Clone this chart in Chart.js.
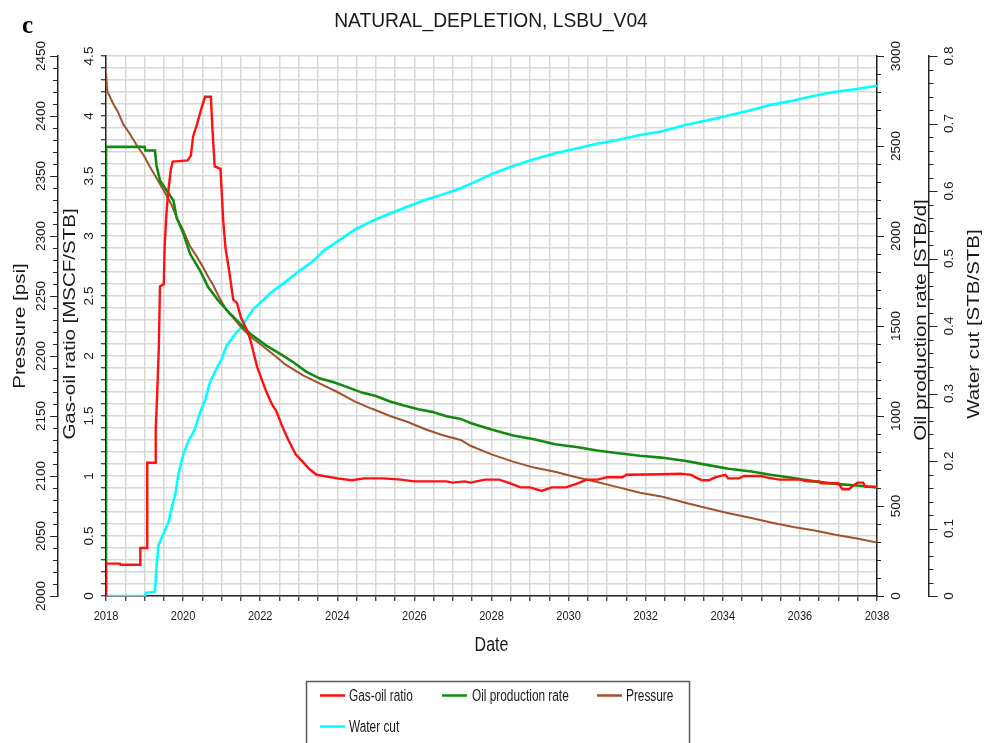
<!DOCTYPE html>
<html>
<head>
<meta charset="utf-8">
<script src="https://cdn.jsdelivr.net/npm/chart.js@4.4.1/dist/chart.umd.min.js"></script>
<style>
html,body{margin:0;padding:0;background:#fff;}
#wrap{position:relative;width:986px;height:743px;}
</style>
</head>
<body>
<div id="wrap"><canvas id="c"></canvas></div>
<script>
// ---------- data ----------
const chartTitle = 'NATURAL_DEPLETION, LSBU_V04';
const seriesNames = ['Gas-oil ratio', 'Oil production rate', 'Pressure', 'Water cut'];

const gorYears = [2018.0,2018.0,2018.36,2018.38,2018.89,2018.89,2019.07,2019.07,2019.28,2019.29,2019.33,2019.37,2019.40,2019.50,2019.52,2019.57,2019.62,2019.68,2019.73,2020.12,2020.20,2020.26,2020.35,2020.49,2020.57,2020.72,2020.77,2020.82,2020.97,2021.04,2021.10,2021.20,2021.30,2021.40,2021.50,2021.65,2021.74,2021.92,2022.15,2022.30,2022.42,2022.55,2022.73,2022.92,2023.10,2023.27,2023.46,2024.0,2024.37,2024.70,2025.20,2025.65,2026.0,2026.83,2027.0,2027.30,2027.45,2027.83,2028.20,2028.47,2028.75,2029.0,2029.30,2029.56,2029.93,2030.20,2030.47,2030.75,2031.0,2031.40,2031.50,2032.40,2032.90,2033.19,2033.28,2033.46,2033.64,2033.82,2034.06,2034.14,2034.42,2034.55,2035.0,2035.10,2035.46,2036.0,2036.20,2036.50,2036.55,2037.0,2037.10,2037.28,2037.37,2037.50,2037.64,2037.70,2038.0];
const gorValues = [0,0.27,0.27,0.26,0.26,0.40,0.40,1.11,1.11,1.39,1.70,2.07,2.58,2.60,2.90,3.20,3.38,3.55,3.62,3.63,3.67,3.83,3.92,4.08,4.16,4.16,3.84,3.58,3.56,3.13,2.90,2.70,2.47,2.44,2.32,2.22,2.14,1.91,1.71,1.60,1.54,1.43,1.30,1.18,1.12,1.06,1.01,0.98,0.965,0.98,0.98,0.97,0.955,0.955,0.945,0.955,0.945,0.97,0.97,0.94,0.905,0.905,0.876,0.905,0.905,0.935,0.97,0.97,0.99,0.99,1.01,1.015,1.02,1.01,0.99,0.965,0.965,0.99,1.01,0.98,0.98,1.0,1.0,0.99,0.97,0.97,0.955,0.955,0.94,0.94,0.89,0.89,0.92,0.945,0.945,0.91,0.91];

const oprYears = [2018.0,2018.0,2019.0,2019.02,2019.27,2019.31,2019.40,2019.57,2019.75,2019.83,2020.01,2020.18,2020.44,2020.65,2020.91,2021.22,2021.48,2021.74,2022.17,2022.56,2022.85,2023.19,2023.55,2023.91,2024.28,2024.64,2025.0,2025.37,2025.73,2026.10,2026.46,2026.83,2027.20,2027.47,2028.0,2028.56,2029.10,2029.65,2030.20,2030.74,2031.30,2031.85,2032.40,2033.05,2033.55,2034.15,2034.74,2035.28,2035.83,2036.38,2036.92,2037.48,2038.0];
const oprValues = [0,2495,2495,2475,2475,2392,2308,2253,2197,2104,2012,1901,1808,1716,1642,1568,1512,1457,1390,1340,1300,1247,1208,1188,1159,1130,1111,1081,1058,1038,1023,999,984,960,925,892,871,843,828,808,793,779,769,750,730,707,692,672,656,637,623,614,603];

const presYears = [2018.0,2018.03,2018.19,2018.30,2018.45,2018.60,2018.79,2019.0,2019.15,2019.35,2019.53,2019.70,2019.85,2020.0,2020.17,2020.35,2020.50,2020.65,2020.78,2020.95,2021.13,2021.30,2021.50,2021.75,2022.0,2022.43,2022.65,2023.10,2023.55,2024.0,2024.46,2024.90,2025.37,2025.83,2026.28,2026.74,2027.20,2027.47,2028.0,2028.56,2029.10,2029.65,2030.20,2030.74,2031.30,2031.85,2032.40,2033.05,2033.55,2034.15,2034.74,2035.28,2035.83,2036.38,2036.92,2037.48,2038.0];
const presValues = [2436,2421,2410,2404,2393,2386,2376,2366,2357,2346,2336,2326,2314,2305,2292,2283,2275,2266,2259,2248,2238,2232,2224,2216,2210,2199,2193,2184,2177,2170,2162,2156,2150,2145,2139,2134,2130,2125,2118,2112,2107,2103.5,2099,2095,2090.5,2086,2083,2077.5,2073.5,2069,2065,2061,2057.5,2054.5,2051,2048,2044.5];

const wctYears = [2018.0,2019.0,2019.05,2019.27,2019.31,2019.36,2019.49,2019.62,2019.71,2019.80,2019.88,2020.01,2020.14,2020.27,2020.35,2020.44,2020.57,2020.70,2020.87,2021.0,2021.13,2021.26,2021.39,2021.52,2021.65,2021.82,2022.0,2022.28,2022.65,2023.0,2023.37,2023.65,2024.0,2024.46,2024.92,2025.38,2025.83,2026.29,2026.74,2027.20,2027.47,2028.0,2028.56,2029.10,2029.65,2030.20,2030.74,2031.30,2031.85,2032.40,2033.05,2033.55,2034.15,2034.74,2035.28,2035.83,2036.38,2036.92,2037.48,2038.0];
const wctValues = [0,0,0.005,0.006,0.043,0.075,0.092,0.109,0.132,0.151,0.181,0.211,0.230,0.243,0.255,0.272,0.290,0.317,0.337,0.351,0.371,0.381,0.391,0.398,0.411,0.425,0.434,0.4496,0.465,0.481,0.496,0.512,0.525,0.543,0.556,0.567,0.577,0.587,0.595,0.604,0.611,0.625,0.637,0.647,0.656,0.663,0.670,0.676,0.683,0.688,0.698,0.704,0.712,0.720,0.728,0.734,0.741,0.747,0.751,0.756];

// tick labels
const xTickLabels = ['2018','2020','2022','2024','2026','2028','2030','2032','2034','2036','2038'];
const gorTickLabels = ['0','0.5','1','1.5','2','2.5','3','3.5','4','4.5'];
const presTickLabels = ['2000','2050','2100','2150','2200','2250','2300','2350','2400','2450'];
const oprTickLabels = ['0','500','1000','1500','2000','2500','3000'];
const wctTickLabels = ['0','0.1','0.2','0.3','0.4','0.5','0.6','0.7','0.8'];

const axisTitles = {x:'Date', yP:'Pressure [psi]', yGor:'Gas-oil ratio [MSCF/STB]', yOpr:'Oil production rate [STB/d]', yW:'Water cut [STB/STB]'};
const colors = ['#ff1010', '#128a12', '#a0522d', '#00ffff'];

// ---------- helpers ----------
const pts = (xs, ys) => xs.map((x, i) => ({x, y: ys[i]}));
const FONT = '"Liberation Sans", Arial, sans-serif';
function txt(ctx, s, x, y, o) {
  ctx.save();
  ctx.translate(x, y);
  ctx.scale(o.k || 1, 1);
  if (o.rot) ctx.rotate(o.rot);
  ctx.font = (o.weight || 'normal') + ' ' + o.size + 'px ' + (o.family || FONT);
  ctx.textAlign = o.align || 'center';
  ctx.textBaseline = o.baseline || 'alphabetic';
  ctx.fillStyle = o.color || '#1a1a1a';
  ctx.fillText(s, 0, 0);
  ctx.restore();
}
const GRID = '#d7d7d7';
const AXIS = '#262626';

const decor = {
  id: 'decor',
  afterDraw(chart) {
    const ctx = chart.ctx;
    const {x, yGor, yP, yOpr, yW} = chart.scales;
    const ca = chart.chartArea;
    const midY = (ca.top + ca.bottom) / 2;
    ctx.save();
    // manual tick marks
    ctx.strokeStyle = AXIS; ctx.lineWidth = 1.2;
    ctx.beginPath();
    for (let v = 2000; v <= 2450; v += 10) {
      const py = Math.round(yP.getPixelForValue(v)) + 0.5;
      const len = (v % 50 === 0) ? 8 : 5;
      ctx.moveTo(yP.right - len, py); ctx.lineTo(yP.right, py);
    }
    for (let v = 0; v <= 3000; v += 100) {
      const py = Math.round(yOpr.getPixelForValue(v)) + 0.5;
      const len = (v % 500 === 0) ? 7 : 4;
      ctx.moveTo(yOpr.left, py); ctx.lineTo(yOpr.left + len, py);
    }
    for (let i = 0; i <= 40; i++) {
      const v = i * 0.02;
      const py = Math.round(yW.getPixelForValue(v)) + 0.5;
      const len = (i % 5 === 0) ? 8.5 : 4.5;
      ctx.moveTo(yW.left, py); ctx.lineTo(yW.left + len, py);
    }
    ctx.stroke();
    ctx.restore();

    const R = -Math.PI / 2;
    // x tick labels
    xTickLabels.forEach(l => txt(ctx, l, x.getPixelForValue(+l), 620, {size: 13.5, k: 0.82}));
    txt(ctx, axisTitles.x, (ca.left + ca.right) / 2, 651, {size: 20, k: 0.8});
    // y tick labels (rotated)
    gorTickLabels.forEach(l => txt(ctx, l, 93, yGor.getPixelForValue(+l), {size: 13.5, k: 0.9, rot: R}));
    presTickLabels.forEach(l => txt(ctx, l, 45, yP.getPixelForValue(+l), {size: 13.5, k: 0.9, rot: R}));
    oprTickLabels.forEach(l => txt(ctx, l, 900, yOpr.getPixelForValue(+l), {size: 13.5, k: 0.9, rot: R}));
    wctTickLabels.forEach(l => txt(ctx, l, 953, yW.getPixelForValue(+l), {size: 13.5, k: 0.9, rot: R}));
    // axis titles (rotated)
    txt(ctx, axisTitles.yP, 25, midY, {size: 20.5, k: 0.85, rot: R});
    txt(ctx, axisTitles.yGor, 75, midY - 2, {size: 20.5, k: 0.85, rot: R});
    txt(ctx, axisTitles.yOpr, 926, midY - 6, {size: 20.5, k: 0.85, rot: R});
    txt(ctx, axisTitles.yW, 979, midY - 2, {size: 20.5, k: 0.85, rot: R});
    // chart title and panel letter
    txt(ctx, chartTitle, 491, 27, {size: 21, k: 0.915});
    txt(ctx, 'c', 22, 32.5, {size: 25, weight: 'bold', family: '"Liberation Serif", "Times New Roman", serif', align: 'left', color: '#000'});

    // legend
    ctx.save();
    ctx.strokeStyle = '#5a5a5a'; ctx.lineWidth = 1.5;
    ctx.strokeRect(306.5, 681.5, 383, 80);
    const items = [
      {i: 0, lx: 320, ly: 695.5, tx: 349, ty: 701},
      {i: 1, lx: 442, ly: 695.5, tx: 472, ty: 701},
      {i: 2, lx: 597, ly: 695.5, tx: 626, ty: 701},
      {i: 3, lx: 320, ly: 726.5, tx: 349, ty: 732}
    ];
    items.forEach(it => {
      const ds = chart.data.datasets[it.i];
      ctx.strokeStyle = ds.borderColor; ctx.lineWidth = 2.5;
      ctx.beginPath(); ctx.moveTo(it.lx, it.ly); ctx.lineTo(it.lx + 25, it.ly); ctx.stroke();
      txt(ctx, ds.label, it.tx, it.ty, {size: 16, k: 0.74, align: 'left'});
    });
    ctx.restore();
  }
};

const fixW = w => (s => { s.width = w; });

new Chart(document.getElementById('c'), {
  type: 'line',
  data: {
    datasets: [
      {label: seriesNames[0], data: pts(gorYears, gorValues), yAxisID: 'yGor', borderColor: colors[0], borderWidth: 2.4},
      {label: seriesNames[1], data: pts(oprYears, oprValues), yAxisID: 'yOpr', borderColor: colors[1], borderWidth: 2.6},
      {label: seriesNames[2], data: pts(presYears, presValues), yAxisID: 'yP', borderColor: colors[2], borderWidth: 2},
      {label: seriesNames[3], data: pts(wctYears, wctValues), yAxisID: 'yW', borderColor: colors[3], borderWidth: 2.6}
    ]
  },
  options: {
    responsive: true,
    maintainAspectRatio: false,
    animation: false,
    parsing: true,
    elements: {point: {radius: 0}, line: {tension: 0, borderJoinStyle: 'miter'}},
    layout: {padding: {top: 56, left: 0, right: 0, bottom: 0}},
    plugins: {legend: {display: false}, title: {display: false}, tooltip: {enabled: false}},
    scales: {
      x: {
        type: 'linear', position: 'bottom', min: 2018, max: 2038,
        ticks: {stepSize: 0.5, display: false, autoSkip: false},
        grid: {color: GRID, lineWidth: 1.5, tickColor: AXIS, tickLength: 5, tickWidth: 1.2},
        border: {color: AXIS, width: 1.5},
        afterFit: s => { s.height = 147; }
      },
      yGor: {
        type: 'linear', position: 'left', weight: 0, min: 0, max: 4.5,
        ticks: {stepSize: 0.1, display: false},
        grid: {color: GRID, lineWidth: 1.5, tickColor: AXIS, tickLength: 5, tickWidth: 1.2},
        border: {color: AXIS, width: 1.5},
        afterFit: fixW(48)
      },
      yP: {
        type: 'linear', position: 'left', weight: 1, min: 2000, max: 2450,
        ticks: {display: false}, grid: {display: false},
        border: {display: true, color: AXIS, width: 1.5},
        afterFit: fixW(58)
      },
      yOpr: {
        type: 'linear', position: 'right', weight: 0, min: 0, max: 3000,
        ticks: {display: false}, grid: {display: false},
        border: {display: true, color: AXIS, width: 1.5},
        afterFit: fixW(52)
      },
      yW: {
        type: 'linear', position: 'right', weight: 1, min: 0, max: 0.8,
        ticks: {display: false}, grid: {display: false},
        border: {display: true, color: AXIS, width: 1.5},
        afterFit: fixW(57)
      }
    }
  },
  plugins: [decor]
});
</script>
</body>
</html>
